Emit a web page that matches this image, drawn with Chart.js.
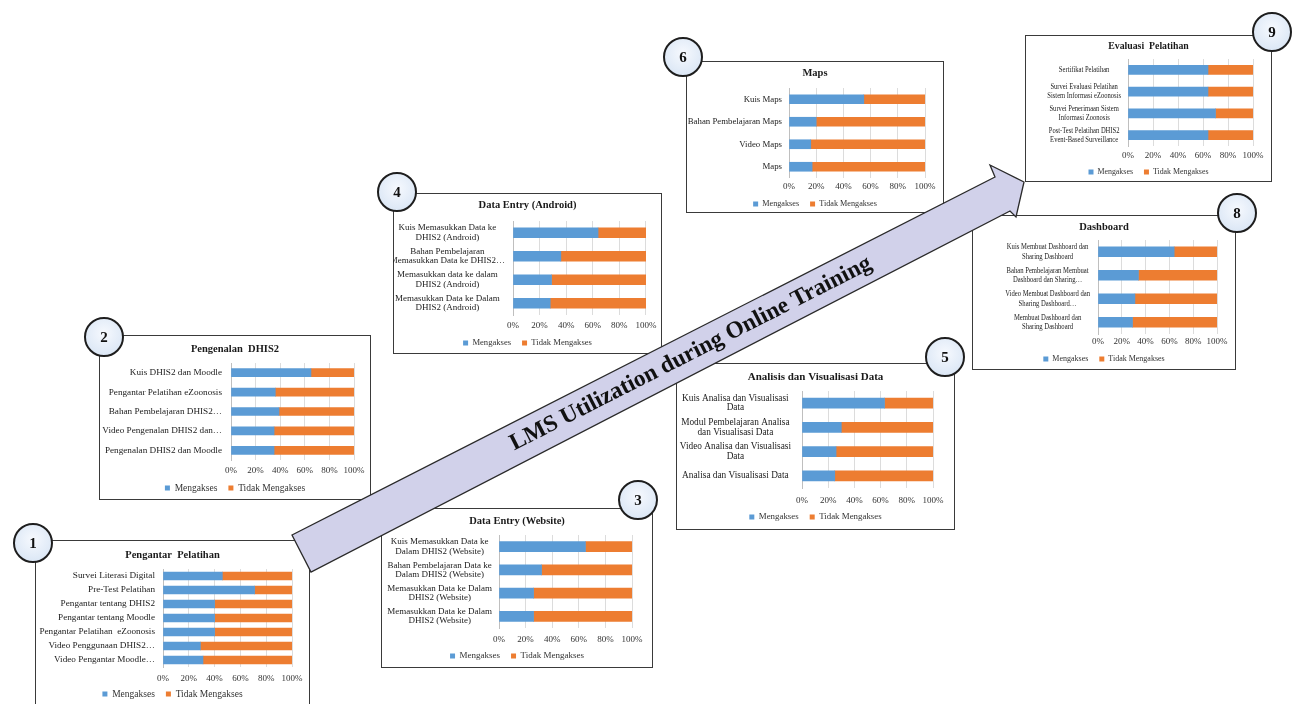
<!DOCTYPE html>
<html><head><meta charset="utf-8">
<script src="https://cdn.jsdelivr.net/npm/chart.js@4.4.1/dist/chart.umd.min.js"></script>
<style>
html,body{margin:0;padding:0;background:#fff;width:1301px;height:704px;overflow:hidden;position:relative;font-family:"Liberation Serif",serif;}
.box{position:absolute;border:1.5px solid #3a3a3a;box-sizing:border-box;background:#fff;z-index:1;}
canvas.c{position:absolute;z-index:2;}
.circ{position:absolute;width:40px;height:40px;border-radius:50%;border:2px solid #1e1e1e;background:radial-gradient(circle at 50% 40%, #f6f9fe 0%, #d4e2f3 100%);box-sizing:border-box;display:flex;align-items:center;justify-content:center;font:bold 15px "Liberation Serif",serif;color:#111;z-index:5;}
svg#arrow{position:absolute;left:0;top:0;z-index:4;}
</style></head><body>
<svg id="arrow" width="1301" height="704">
  <polygon points="292,535 995,177 990,165 1024,182 1016,217 1010,211 311,572" fill="#d1d1ea" stroke="#2a2a2a" stroke-width="1.3" stroke-linejoin="miter"/>
  <text x="690" y="352" transform="rotate(-27 690 352)" text-anchor="middle" dominant-baseline="central" font-family="Liberation Serif, serif" font-weight="bold" font-size="23.5" fill="#111">LMS Utilization during Online Training</text>
</svg>
<script>
// ---------------- DATA ----------------
const seriesNames = ['Mengakses', 'Tidak Mengakses'];
const xTickLabels = ['0%', '20%', '40%', '60%', '80%', '100%'];

const p1Title = 'Pengantar  Pelatihan';
const p1Categories = ['Survei Literasi Digital', 'Pre-Test Pelatihan', 'Pengantar tentang DHIS2', 'Pengantar tentang Moodle', 'Pengantar Pelatihan  eZoonosis', 'Video Penggunaan DHIS2…', 'Video Pengantar Moodle…'];
const p1Mengakses = [46, 71, 40, 40, 40, 29, 31];
const p1TidakMengakses = [54, 29, 60, 60, 60, 71, 69];

const p2Title = 'Pengenalan  DHIS2';
const p2Categories = ['Kuis DHIS2 dan Moodle', 'Pengantar Pelatihan eZoonosis', 'Bahan Pembelajaran DHIS2…', 'Video Pengenalan DHIS2 dan…', 'Pengenalan DHIS2 dan Moodle'];
const p2Mengakses = [65, 36, 39, 35, 35];
const p2TidakMengakses = [35, 64, 61, 65, 65];

const p3Title = 'Data Entry (Website)';
const p3Categories = [['Kuis Memasukkan Data ke', 'Dalam DHIS2 (Website)'], ['Bahan Pembelajaran Data ke', 'Dalam DHIS2 (Website)'], ['Memasukkan Data ke Dalam', 'DHIS2 (Website)'], ['Memasukkan Data ke Dalam', 'DHIS2 (Website)']];
const p3Mengakses = [65, 32, 26, 26];
const p3TidakMengakses = [35, 68, 74, 74];

const p4Title = 'Data Entry (Android)';
const p4Categories = [['Kuis Memasukkan Data ke', 'DHIS2 (Android)'], ['Bahan Pembelajaran', 'Memasukkan Data ke DHIS2…'], ['Memasukkan data ke dalam', 'DHIS2 (Android)'], ['Memasukkan Data ke Dalam', 'DHIS2 (Android)']];
const p4Mengakses = [64, 36, 29, 28];
const p4TidakMengakses = [36, 64, 71, 72];

const p5Title = 'Analisis dan Visualisasi Data';
const p5Categories = [['Kuis Analisa dan Visualisasi', 'Data'], ['Modul Pembelajaran Analisa', 'dan Visualisasi Data'], ['Video Analisa dan Visualisasi', 'Data'], 'Analisa dan Visualisasi Data'];
const p5Mengakses = [63, 30, 26, 25];
const p5TidakMengakses = [37, 70, 74, 75];

const p6Title = 'Maps';
const p6Categories = ['Kuis Maps', 'Bahan Pembelajaran Maps', 'Video Maps', 'Maps'];
const p6Mengakses = [55, 20, 16, 17];
const p6TidakMengakses = [45, 80, 84, 83];

const p8Title = 'Dashboard';
const p8Categories = [['Kuis Membuat Dashboard dan', 'Sharing Dashboard'], ['Bahan Pembelajaran Membuat', 'Dashboard dan Sharing…'], ['Video Membuat Dashboard dan', 'Sharing Dashboard…'], ['Membuat Dashboard dan', 'Sharing Dashboard']];
const p8Mengakses = [64, 34, 31, 29];
const p8TidakMengakses = [36, 66, 69, 71];

const p9Title = 'Evaluasi  Pelatihan';
const p9Categories = ['Sertifikat Pelatihan', ['Survei Evaluasi Pelatihan', 'Sistem Informasi eZoonosis'], ['Survei Penerimaan Sistem', 'Informasi Zoonosis'], ['Post-Test Pelatihan DHIS2', 'Event-Based Surveillance']];
const p9Mengakses = [64, 64, 70, 64];
const p9TidakMengakses = [36, 36, 30, 36];

// ---------------- LAYOUT / STYLE ----------------
const SERIF = '"Liberation Serif", "Times New Roman", serif';
const BLUE = '#5B9BD5', ORANGE = '#ED7D31';

const panels = [
  {num:'1', title:p1Title, cats:p1Categories, m:p1Mengakses, t:p1TidakMengakses, L:35,  T:540, R:310,  B:716, plotL:163,  plotR:292,  titleY:555, top:569, bot:667, tickY:679, legY:694, bt:8,  cx:33,   cy:543, yFs:9.2, yLh:1.1,  yPad:8,  align:'near',   legFs:9.5, tFs:10.5, sx:1},
  {num:'2', title:p2Title, cats:p2Categories, m:p2Mengakses, t:p2TidakMengakses, L:99,  T:335, R:371,  B:500, plotL:231,  plotR:354,  titleY:349, top:363, bot:460, tickY:471, legY:488, bt:8,  cx:104,  cy:337, yFs:9.2, yLh:1.1,  yPad:9,  align:'near',   legFs:9.5, tFs:10.5, sx:1},
  {num:'3', title:p3Title, cats:p3Categories, m:p3Mengakses, t:p3TidakMengakses, L:381, T:508, R:653,  B:668, plotL:499,  plotR:632,  titleY:521, top:535, bot:628, tickY:640, legY:656, bt:10, cx:638,  cy:500, yFs:9.0, yLh:1.05, yPad:7,  align:'center', legFs:9.0, tFs:10.5, sx:1},
  {num:'4', title:p4Title, cats:p4Categories, m:p4Mengakses, t:p4TidakMengakses, L:393, T:193, R:662,  B:354, plotL:513,  plotR:646,  titleY:205, top:221, bot:315, tickY:326, legY:343, bt:10, cx:397,  cy:192, yFs:9.0, yLh:1.05, yPad:8,  align:'center', legFs:8.6, tFs:10.5, sx:1},
  {num:'5', title:p5Title, cats:p5Categories, m:p5Mengakses, t:p5TidakMengakses, L:676, T:363, R:955,  B:530, plotL:802,  plotR:933,  titleY:377, top:391, bot:488, tickY:501, legY:517, bt:10, cx:945,  cy:357, yFs:9.3, yLh:1.05, yPad:11, align:'center', legFs:8.9, tFs:11,   sx:1},
  {num:'6', title:p6Title, cats:p6Categories, m:p6Mengakses, t:p6TidakMengakses, L:686, T:61,  R:944,  B:213, plotL:789,  plotR:925,  titleY:73,  top:88,  bot:178, tickY:187, legY:204, bt:9,  cx:683,  cy:57,  yFs:8.8, yLh:1.1,  yPad:7,  align:'near',   legFs:8.2, tFs:10.5, sx:1},
  {num:'8', title:p8Title, cats:p8Categories, m:p8Mengakses, t:p8TidakMengakses, L:972, T:215, R:1236, B:370, plotL:1098, plotR:1217, titleY:227, top:240, bot:334, tickY:342, legY:359, bt:10, cx:1237, cy:213, yFs:9.0, yLh:1.05, yPad:8,  align:'center', legFs:8.0, tFs:10.5, sx:0.74},
  {num:'9', title:p9Title, cats:p9Categories, m:p9Mengakses, t:p9TidakMengakses, L:1025,T:35,  R:1272, B:182, plotL:1128, plotR:1253, titleY:46,  top:59,  bot:146, tickY:156, legY:172, bt:9,  cx:1272, cy:32,  yFs:9.0, yLh:1.0,  yPad:7,  align:'center', legFs:7.9, tFs:9.8,  sx:0.73}
];

const FS_TICK = 9, LEG_PAD = 11;
const noClip = () => null;

panels.forEach(g => {
  const W = g.R - g.L, H = g.B - g.T;
  const box = document.createElement('div');
  box.className = 'box';
  Object.assign(box.style, {left:g.L+'px', top:g.T+'px', width:W+'px', height:H+'px'});
  document.body.appendChild(box);

  const circ = document.createElement('div');
  circ.className = 'circ';
  circ.textContent = g.num;
  Object.assign(circ.style, {left:(g.cx-20)+'px', top:(g.cy-20)+'px'});
  document.body.appendChild(circ);

  const legTop = g.legY - LEG_PAD - g.legFs/2;
  const legBottom = legTop + g.legFs + LEG_PAD + 10;
  const CH = Math.ceil(Math.max(H, legBottom - g.T + 1));
  const padB = CH - (legBottom - g.T);
  const th = g.tFs * 1.2;
  const tpT = g.titleY - g.T - th/2;
  const tpB = g.top - g.titleY - th/2;
  const xh = legTop - g.bot;
  const xPad = g.tickY - g.bot - FS_TICK*1.2/2;
  const yW = g.plotL - g.L;
  const rW = g.R - g.plotR;

  const cv = document.createElement('canvas');
  cv.className = 'c';
  cv.width = W; cv.height = CH;
  Object.assign(cv.style, {left:g.L+'px', top:g.T+'px', width:W+'px', height:CH+'px'});
  document.body.appendChild(cv);

  new Chart(cv, {
    type: 'bar',
    data: {
      labels: g.cats,
      datasets: [
        {label: seriesNames[0], data: g.m, backgroundColor: BLUE, barThickness: g.bt},
        {label: seriesNames[1], data: g.t, backgroundColor: ORANGE, barThickness: g.bt}
      ]
    },
    options: {
      indexAxis: 'y', responsive: false, animation: false, devicePixelRatio: 1,
      layout: {padding: {left: 0, top: 0, right: 0, bottom: padB}},
      plugins: {
        title: {display: true, text: g.title, color: '#1a1a1a', font: {family: SERIF, size: g.tFs, weight: 'bold'}, padding: {top: tpT, bottom: tpB}},
        legend: {position: 'bottom', labels: {boxWidth: 5, boxHeight: 5, padding: LEG_PAD, color: '#333', font: {family: SERIF, size: g.legFs}}},
        tooltip: {enabled: false}
      },
      scales: {
        x: {
          stacked: true, min: 0, max: 100,
          ticks: {stepSize: 20, autoSkip: false, callback: v => xTickLabels[Math.round(v/20)], color: '#333', font: {family: SERIF, size: FS_TICK}, padding: xPad, maxRotation: 0},
          grid: {color: '#dcdcdc', drawTicks: false},
          border: {display: false},
          afterFit: s => { s.height = xh; s._computeLabelArea = noClip; }
        },
        y: {
          stacked: true,
          ticks: {color: '#222', font: {family: SERIF, size: g.yFs, lineHeight: g.yLh}, padding: g.yPad / g.sx, autoSkip: false, crossAlign: g.align},
          grid: {display: false, drawTicks: false},
          border: {color: '#bfbfbf'},
          afterFit: s => {
            s.width = yW; s._computeLabelArea = noClip;
            if (g.sx !== 1 && !s._squeezed) {
              const orig = s.drawLabels;
              s.drawLabels = function(area) {
                const ctx = this.ctx;
                ctx.save();
                ctx.translate(this.right, 0); ctx.scale(g.sx, 1); ctx.translate(-this.right, 0);
                orig.call(this, area);
                ctx.restore();
              };
              s._squeezed = true;
            }
          }
        },
        yRight: {
          type: 'category', position: 'right', display: true,
          ticks: {display: false}, grid: {display: false, drawTicks: false}, border: {display: false},
          afterFit: s => { s.width = rW; }
        }
      }
    }
  });
});
</script>
</body></html>
